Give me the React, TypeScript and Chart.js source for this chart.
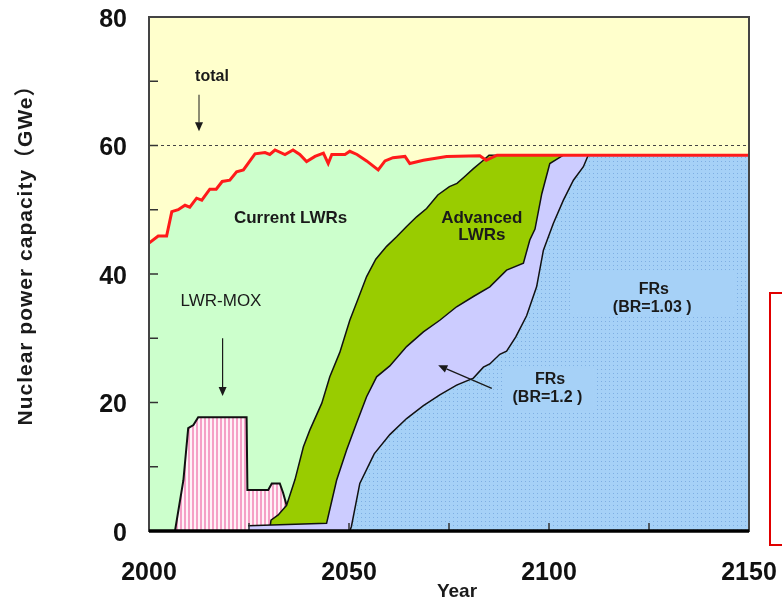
import React, { useEffect, useRef } from 'react';
import { Chart, registerables } from 'chart.js';

Chart.register(...registerables);

// ---- data (cumulative top edge of each band, GWe) ----
const TOTAL_YEARS = [2000, 2002.3, 2004.4, 2005.7, 2007.3, 2009, 2010.2, 2011.9, 2013.2, 2015.2, 2016.8, 2018.3, 2020.2, 2021.9, 2023.6, 2026.5, 2029, 2030.2, 2031.5, 2034, 2036, 2037.7, 2039.4, 2041.5, 2043.6, 2044.8, 2045.7, 2049, 2050.2, 2052, 2054.4, 2057.3, 2059, 2061, 2064, 2065.2, 2068.6, 2074.4, 2082.7, 2084.3, 2087, 2150];
const TOTAL_GWE = [44.8, 45.9, 45.9, 49.7, 50.0, 50.7, 50.4, 51.8, 51.5, 53.2, 53.2, 54.4, 54.6, 55.9, 56.2, 58.7, 58.9, 58.6, 59.3, 58.6, 59.3, 58.6, 57.5, 58.3, 58.8, 57.2, 58.6, 58.6, 59.1, 58.6, 57.6, 56.2, 57.6, 58.1, 58.3, 57.2, 57.7, 58.3, 58.4, 57.7, 58.5, 58.5];

const MOX_YEARS = [2006.5, 2008.6, 2009.8, 2011.1, 2012.3, 2024.4, 2024.6, 2029.8, 2030.7, 2032.7, 2033.5, 2034.4];
const MOX_TOP = [0, 7.9, 16.0, 16.5, 17.7, 17.7, 6.4, 6.4, 7.4, 7.4, 6.0, 4.0];

const ADV_YEARS = [2030.3, 2030.5, 2032.3, 2034.4, 2036.5, 2038.6, 2040.2, 2043.2, 2045.2, 2047.7, 2050.2, 2052.3, 2054.4, 2056.7, 2059.4, 2061.9, 2064.4, 2066.9, 2069.4, 2072.2, 2075.1, 2077, 2078.8, 2081.1, 2083.6, 2085, 2150];
const ADV_TOP = [0.8, 1.7, 2.5, 4.0, 8.0, 13.1, 15.7, 19.9, 24.0, 27.8, 32.8, 36.2, 39.6, 42.3, 44.3, 45.8, 47.4, 48.9, 50.2, 52.3, 53.6, 54.1, 55.1, 56.4, 57.7, 58.5, 58.5];

const FR12_YEARS = [2024.75, 2044.4, 2046.9, 2049.4, 2051.9, 2054.4, 2056.9, 2060.2, 2064.4, 2068.6, 2072.7, 2076.9, 2081.1, 2085.2, 2089.4, 2093.6, 2095.2, 2096.5, 2098.2, 2100.2, 2103.6, 2150];
const FR12_TOP = [0.8, 1.2, 7.9, 12.6, 16.8, 20.9, 24.0, 25.7, 28.7, 31.0, 32.8, 34.9, 36.5, 38.0, 40.6, 41.7, 45.3, 47.0, 52.5, 57.2, 58.5, 58.5];

const FR103_YEARS = [2050.2, 2050.6, 2052.7, 2056.3, 2060.2, 2064.4, 2068.6, 2072.7, 2076.9, 2081.1, 2083.6, 2085.2, 2087.7, 2089.4, 2091.7, 2094.4, 2096.9, 2098.6, 2101.1, 2103.6, 2106.1, 2108.6, 2109.8, 2150];
const FR103_TOP = [0, 0.7, 7.4, 12.0, 15.0, 17.5, 19.5, 21.2, 22.7, 23.8, 25.5, 26.0, 27.5, 28.0, 30.2, 33.5, 38.0, 43.7, 47.9, 51.5, 54.6, 56.7, 58.5, 58.5];

const TARGET_GWE = 60;
const X_TICKS = [2000, 2050, 2100, 2150];
const Y_TICKS = [0, 20, 40, 60, 80];
const X_MINOR = [2025, 2050, 2075, 2100, 2125];
const Y_MINOR = [10, 20, 30, 40, 50, 60, 70];

const FONT = '"Liberation Sans", Arial, "Noto Sans CJK JP", sans-serif';

const pts = (xs: number[], ys: number[]) => xs.map((x, i) => ({ x, y: ys[i] }));

function makeDots(): CanvasPattern | string {
  const c = document.createElement('canvas');
  c.width = 4; c.height = 4;
  const g = c.getContext('2d');
  if (!g) return '#A6D1F7';
  g.fillStyle = '#A6D1F7'; g.fillRect(0, 0, 4, 4);
  g.fillStyle = '#7EAEE2'; g.fillRect(1, 1, 1, 1);
  return g.createPattern(c, 'repeat') || '#A6D1F7';
}
function makeStripes(): CanvasPattern | string {
  const c = document.createElement('canvas');
  c.width = 4; c.height = 4;
  const g = c.getContext('2d');
  if (!g) return '#F7A3C8';
  g.fillStyle = '#FFF2F7'; g.fillRect(0, 0, 4, 4);
  g.fillStyle = '#F5A0C6'; g.fillRect(0, 0, 2, 4);
  return g.createPattern(c, 'repeat') || '#F7A3C8';
}

function arrow(ctx: CanvasRenderingContext2D, x1: number, y1: number, x2: number, y2: number) {
  const a = Math.atan2(y2 - y1, x2 - x1);
  const h = 9, w = 4;
  ctx.beginPath();
  ctx.moveTo(x1, y1);
  ctx.lineTo(x2 - Math.cos(a) * h, y2 - Math.sin(a) * h);
  ctx.stroke();
  ctx.beginPath();
  ctx.moveTo(x2, y2);
  ctx.lineTo(x2 - Math.cos(a) * h - Math.sin(a) * w, y2 - Math.sin(a) * h + Math.cos(a) * w);
  ctx.lineTo(x2 - Math.cos(a) * h + Math.sin(a) * w, y2 - Math.sin(a) * h - Math.cos(a) * w);
  ctx.closePath();
  ctx.fill();
}

const bgPlugin = {
  id: 'bg',
  beforeDatasetsDraw(chart: any) {
    const { ctx, chartArea: a } = chart;
    ctx.save();
    ctx.fillStyle = '#FFFFCC';
    ctx.fillRect(a.left, a.top, a.right - a.left, a.bottom - a.top);
    ctx.restore();
  },
};

const decorPlugin = {
  id: 'decor',
  afterDatasetsDraw(chart: any) {
    const { ctx, chartArea: a, scales } = chart;
    const X = (v: number) => scales.x.getPixelForValue(v);
    const Y = (v: number) => scales.y.getPixelForValue(v);
    ctx.save();
    // plain label boxes inside the FR region
    ctx.fillStyle = '#A6D1F7';
    ctx.fillRect(X(2105.3), Y(40.6), X(2146.5) - X(2105.3), Y(33.3) - Y(40.6));
    ctx.fillRect(X(2089), Y(25.7), X(2111.5) - X(2089), Y(18.8) - Y(25.7));

    // minor ticks
    ctx.strokeStyle = '#333';
    ctx.lineWidth = 1.5;
    Y_MINOR.forEach((v) => {
      ctx.beginPath(); ctx.moveTo(a.left, Y(v)); ctx.lineTo(a.left + 9, Y(v)); ctx.stroke();
    });
    X_MINOR.forEach((v) => {
      ctx.beginPath(); ctx.moveTo(X(v), a.bottom); ctx.lineTo(X(v), a.bottom - 8); ctx.stroke();
    });

    // frame
    ctx.strokeStyle = '#444';
    ctx.lineWidth = 2;
    ctx.strokeRect(a.left, a.top, a.right - a.left, a.bottom - a.top);
    ctx.strokeStyle = '#000';
    ctx.lineWidth = 3.5;
    ctx.beginPath(); ctx.moveTo(a.left, a.bottom); ctx.lineTo(a.right, a.bottom); ctx.stroke();

    // labels
    ctx.fillStyle = '#1a1a1a';
    ctx.strokeStyle = '#1a1a1a';
    ctx.textAlign = 'center';
    ctx.textBaseline = 'middle';
    ctx.font = `bold 16px ${FONT}`;
    ctx.fillText('total', X(2015.75), Y(70.7));
    ctx.lineWidth = 1;
    arrow(ctx, X(2012.5), Y(67.9), X(2012.5), Y(62.2));

    ctx.font = `bold 17px ${FONT}`;
    ctx.fillText('Current LWRs', X(2035.4), Y(48.7));

    ctx.font = `17px ${FONT}`;
    ctx.fillText('LWR-MOX', X(2018), Y(35.8));
    ctx.lineWidth = 1.2;
    arrow(ctx, X(2018.4), Y(30.0), X(2018.4), Y(21.0));

    ctx.font = `bold 17px ${FONT}`;
    ctx.fillText('Advanced', X(2083.2), Y(48.7));
    ctx.fillText('LWRs', X(2083.2), Y(46.0));

    ctx.font = `bold 16px ${FONT}`;
    ctx.fillText('FRs', X(2126.2), Y(37.6));
    ctx.fillText('(BR=1.03 )', X(2125.8), Y(34.8));
    ctx.fillText('FRs', X(2100.25), Y(23.5));
    ctx.fillText('(BR=1.2 )', X(2099.6), Y(20.7));
    ctx.lineWidth = 1.3;
    arrow(ctx, X(2085.7), Y(22.2), X(2072.3), Y(25.8));
    ctx.restore();
  },
  afterDraw(chart: any) {
    const { ctx } = chart;
    ctx.save();
    ctx.fillStyle = '#1a1a1a';
    ctx.textAlign = 'center';
    ctx.textBaseline = 'middle';
    // x axis title
    ctx.font = `bold 19px ${FONT}`;
    ctx.fillText('Year', 457, 592);
    // y axis title
    ctx.translate(26, 250);
    ctx.rotate(-Math.PI / 2);
    ctx.font = `bold 21px ${FONT}`;
    try { (ctx as any).letterSpacing = '1px'; } catch (e) { /* ignore */ }
    ctx.fillText('Nuclear power capacity（GWe）', 0, 0);
    ctx.restore();
    // red frame at right edge
    ctx.save();
    ctx.strokeStyle = '#E00000';
    ctx.lineWidth = 2;
    ctx.strokeRect(770, 293, 40, 252);
    ctx.restore();
  },
};

export default function App() {
  const ref = useRef<HTMLCanvasElement | null>(null);
  useEffect(() => {
    document.body.style.margin = '0';
    const canvas = ref.current;
    if (!canvas) return;
    const dots = makeDots();
    const stripes = makeStripes();
    const chart = new Chart(canvas, {
      type: 'line',
      data: {
        datasets: [
          { label: 'Total', data: pts(TOTAL_YEARS, TOTAL_GWE), borderColor: '#FF1A1A', borderWidth: 3, fill: false, pointRadius: 0 },
          { label: 'Target', data: pts([2000, 2150], [TARGET_GWE, TARGET_GWE]), borderColor: '#444', borderWidth: 1, borderDash: [3, 3], fill: false, pointRadius: 0 },
          { label: 'FRs (BR=1.03)', data: pts(FR103_YEARS, FR103_TOP), borderColor: '#111', borderWidth: 1.5, backgroundColor: dots as any, fill: 'origin', pointRadius: 0 },
          { label: 'FRs (BR=1.2)', data: pts(FR12_YEARS, FR12_TOP), borderColor: '#111', borderWidth: 1.5, backgroundColor: '#CCCCFF', fill: 'origin', pointRadius: 0 },
          { label: 'Advanced LWRs', data: pts(ADV_YEARS, ADV_TOP), borderColor: '#111', borderWidth: 1.5, backgroundColor: '#99CC00', fill: 'origin', pointRadius: 0 },
          { label: 'LWR-MOX', data: pts(MOX_YEARS, MOX_TOP), borderColor: '#111', borderWidth: 2, backgroundColor: stripes as any, fill: 'origin', pointRadius: 0 },
          { label: 'Current LWRs', data: pts(TOTAL_YEARS, TOTAL_GWE), borderWidth: 0, borderColor: 'rgba(0,0,0,0)', backgroundColor: '#CCFFCC', fill: 'origin', pointRadius: 0 },
        ],
      },
      options: {
        animation: false,
        responsive: false,
        events: [],
        layout: { padding: { left: 0, right: 33, top: 17, bottom: 0 } },
        plugins: { legend: { display: false }, tooltip: { enabled: false } },
        scales: {
          x: {
            type: 'linear',
            min: 2000,
            max: 2150,
            grid: { display: false, drawTicks: false },
            border: { display: false },
            afterBuildTicks: (s: any) => { s.ticks = X_TICKS.map((v) => ({ value: v })); },
            afterFit: (s: any) => { s.height = 72; s.paddingLeft = 0; s.paddingRight = 0; },
            ticks: { color: '#111', padding: 27, maxRotation: 0, autoSkip: false, callback: (v: any) => String(v), font: { family: FONT, size: 25, weight: 'bold' } },
          },
          y: {
            min: 0,
            max: 80,
            grid: { display: false, drawTicks: false },
            border: { display: false },
            afterBuildTicks: (s: any) => { s.ticks = Y_TICKS.map((v) => ({ value: v })); },
            afterFit: (s: any) => { s.width = 149; s.paddingTop = 0; s.paddingBottom = 0; },
            ticks: { color: '#111', padding: 22, labelOffset: 3, font: { family: FONT, size: 25, weight: 'bold' } },
          },
        },
      },
      plugins: [bgPlugin, decorPlugin],
    } as any);
    return () => chart.destroy();
  }, []);
  return (
    <div style={{ width: 782, height: 603, background: '#fff' }}>
      <canvas ref={ref} width={782} height={603} style={{ display: 'block' }} />
    </div>
  );
}
